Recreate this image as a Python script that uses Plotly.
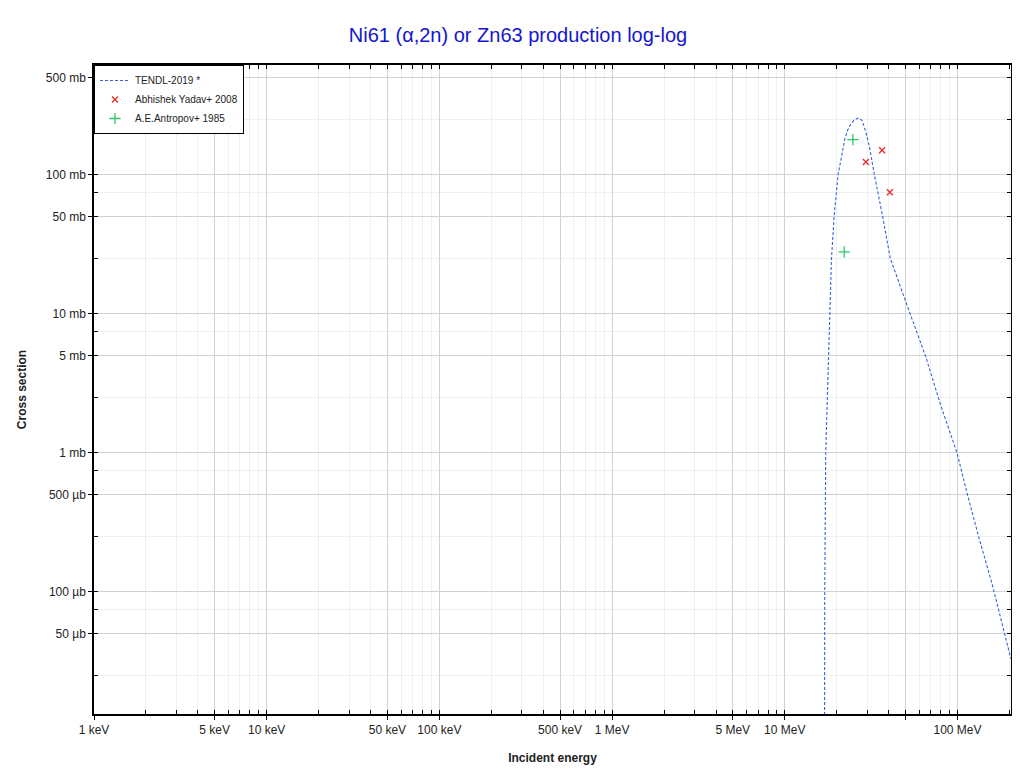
import plotly.graph_objects as go

# TENDL-2019 evaluated curve (energy in MeV, cross section in mb)
tendl_E = [16.95, 17.04, 17.27, 18.38, 18.63, 19.30, 20.35, 22.22, 23.02, 23.95, 25.1, 26.5,
           27.35, 28.1, 29.6, 30.9, 33.04, 36.9, 40.8, 51.4, 65.5, 79.9, 99.6, 113.7, 132.6,
           158.3, 201.7, 204.0]
tendl_xs = [0.001, 0.103, 1.02, 17.56, 24.5, 50.1, 100.0, 178.7, 207.0, 229.0, 246.6, 256.0,
            253.0, 244.6, 199.5, 160.0, 100.0, 50.1, 25.2, 11.29, 4.93, 2.21, 0.995, 0.513,
            0.250, 0.1156, 0.0352, 0.033]

# Experimental data
yadav_E = [29.5, 36.6, 40.6]
yadav_xs = [124.0, 150.6, 75.0]
antropov_E = [22.1, 24.8]
antropov_xs = [28.0, 179.5]

# Axis ticks
x_tickvals = [1e3, 5e3, 1e4, 5e4, 1e5, 5e5, 1e6, 5e6, 1e7, 5e7, 1e8]
x_ticktext = ["1 keV", "5 keV", "10 keV", "50 keV", "100 keV", "500 keV", "1 MeV",
              "5 MeV", "10 MeV", "", "100 MeV"]
y_tickvals = [5e-1, 1e-1, 5e-2, 1e-2, 5e-3, 1e-3, 5e-4, 1e-4, 5e-5]
y_ticktext = ["500 mb", "100 mb", "50 mb", "10 mb", "5 mb", "1 mb", "500 µb", "100 µb", "50 µb"]
y_minorvals = [7.5e-1, 2.5e-1, 7.5e-2, 2.5e-2, 7.5e-3, 2.5e-3, 7.5e-4, 2.5e-4, 7.5e-5, 2.5e-5]

to_eV = lambda arr: [v * 1e6 for v in arr]
to_b = lambda arr: [v * 1e-3 for v in arr]

FONT = "Liberation Sans, Arial, sans-serif"

fig = go.Figure()
fig.add_trace(go.Scatter(
    x=to_eV(tendl_E), y=to_b(tendl_xs), mode="lines", name="TENDL-2019 *",
    line=dict(color="#3a5fe0", width=1.1, dash="3px,2px")))
fig.add_trace(go.Scatter(
    x=to_eV(yadav_E), y=to_b(yadav_xs), mode="markers", name="Abhishek Yadav+ 2008",
    marker=dict(symbol="x-thin", size=6, line=dict(color="#f02828", width=1.3), color="#f02828")))
fig.add_trace(go.Scatter(
    x=to_eV(antropov_E), y=to_b(antropov_xs), mode="markers", name="A.E.Antropov+ 1985",
    marker=dict(symbol="cross-thin", size=8, line=dict(color="#2ec866", width=1.3), color="#2ec866")))
# empty helper trace for the overlay axes (inside tick marks)
fig.add_trace(go.Scatter(x=[], y=[], xaxis="x2", yaxis="y2", showlegend=False, hoverinfo="skip"))

xr = [3, 8.31]
yr = [-4.878, -0.209]

fig.update_layout(
    width=1020, height=774,
    margin=dict(l=79, r=17, t=57, b=68),
    paper_bgcolor="white", plot_bgcolor="white",
    font=dict(family=FONT, size=12, color="#222"),
    title=dict(text="Ni61 (α,2n) or Zn63 production log-log", x=0.5, xanchor="center",
               y=0.9651, yanchor="middle", font=dict(size=20, color="#1515d0", family=FONT)),
    showlegend=True,
    legend=dict(x=0, y=1, xanchor="left", yanchor="top", bgcolor="white",
                bordercolor="black", borderwidth=1, font=dict(size=10, family=FONT),
                tracegroupgap=0, itemwidth=30),
    xaxis=dict(type="log", range=xr, tickmode="array", tickvals=x_tickvals, ticktext=x_ticktext,
               ticks="outside", ticklen=4, tickcolor="black", showline=True, linecolor="black",
               linewidth=1.5, mirror=True, showgrid=True, gridcolor="#d2d2d2", gridwidth=1,
               zeroline=False, tickfont=dict(size=12),
               minor=dict(dtick="D1", showgrid=True, gridcolor="#efefef", ticks=""),
               title=dict(text="<b>Incident energy</b>", font=dict(size=12), standoff=17)),
    yaxis=dict(type="log", range=yr, tickmode="array", tickvals=y_tickvals, ticktext=y_ticktext,
               ticks="outside", ticklen=4, tickcolor="black", showline=True, linecolor="black",
               linewidth=1.5, mirror=True, showgrid=True, gridcolor="#d2d2d2", gridwidth=1,
               zeroline=False, tickfont=dict(size=12),
               minor=dict(tickmode="array", tickvals=y_minorvals, showgrid=True,
                          gridcolor="#efefef", ticks=""),
               title=dict(text="<b>Cross section</b>", font=dict(size=12), standoff=17)),
    xaxis2=dict(type="log", range=xr, overlaying="x", anchor="y", side="bottom",
                tickmode="array", tickvals=x_tickvals, showticklabels=False,
                ticks="inside", ticklen=4, tickcolor="black", mirror="ticks",
                showline=False, showgrid=False, zeroline=False,
                minor=dict(dtick="D1", ticks="inside", ticklen=4, tickcolor="black", showgrid=False)),
    yaxis2=dict(type="log", range=yr, overlaying="y", anchor="x", side="left",
                tickmode="array", tickvals=y_tickvals, showticklabels=False,
                ticks="inside", ticklen=4, tickcolor="black", mirror="ticks",
                showline=False, showgrid=False, zeroline=False,
                minor=dict(tickmode="array", tickvals=y_minorvals, ticks="inside", ticklen=4,
                           tickcolor="black", showgrid=False)),
)

fig.write_html("out.html")
